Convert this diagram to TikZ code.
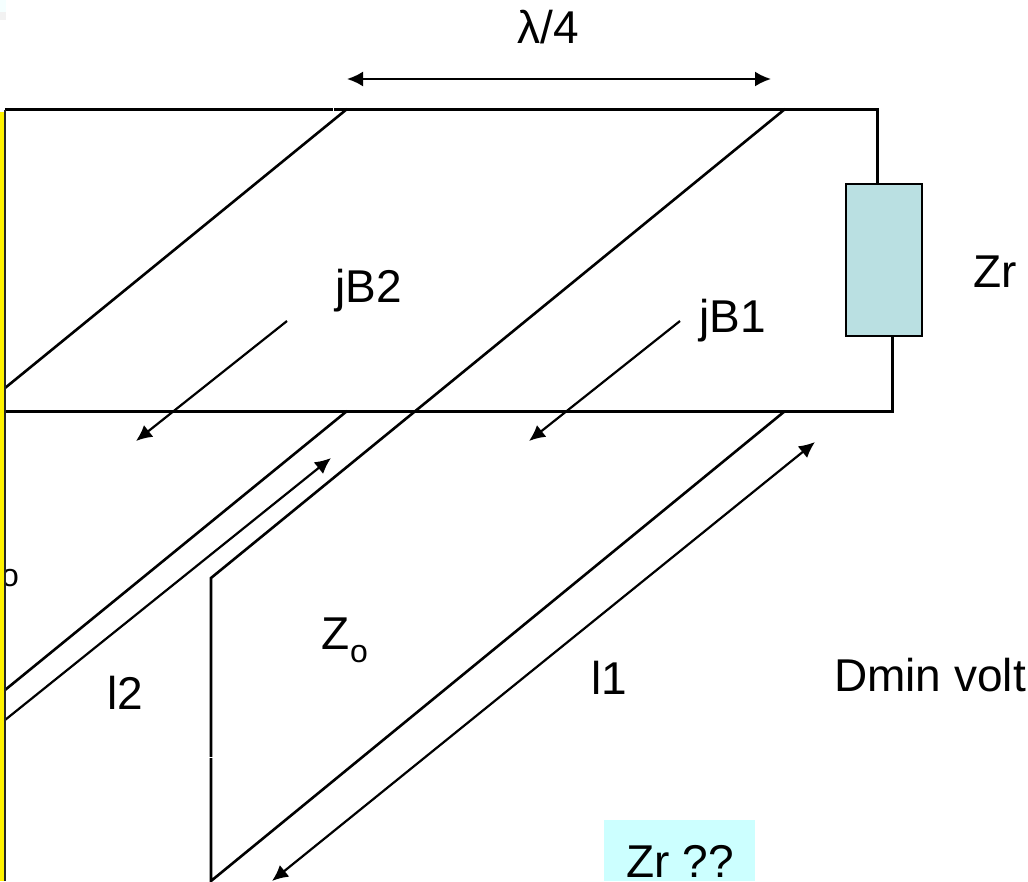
\documentclass[tikz,border=0pt]{standalone}
\usepackage{fontspec}
\setmainfont{Liberation Sans}
\usetikzlibrary{arrows.meta}
\definecolor{boxfill}{HTML}{BAE0E2}
\definecolor{noteFill}{HTML}{CCFFFF}
\tikzset{
  wire/.style={draw=black,line width=3pt,line join=miter},
  slant/.style={draw=black,line width=2.6pt,line join=miter},
  dim/.style={draw=black,line width=2.2pt,{Latex[length=16pt,width=15pt]}-{Latex[length=16pt,width=15pt]}},
  sdim/.style={draw=black,line width=2.2pt,-{Latex[length=16pt,width=15pt]}},
  label/.style={inner sep=0pt,font=\fontsize{46}{46}\selectfont,text=black},
  sublabel/.style={inner sep=0pt,font=\fontsize{32}{32}\selectfont,text=black},
}
\begin{document}
\begin{tikzpicture}[x=1pt,y=-1pt]
\useasboundingbox (0,0) rectangle (1028,881);
\fill[white] (0,0) rectangle (1028,881);
\fill[blue!3!cyan!4] (0,0) rectangle (6,12);
\fill[black!5] (0,12) rectangle (6,20);
% coordinates
\coordinate (tl) at (5,109);
\coordinate (tr) at (877,109);
\coordinate (bl) at (5,411);
\coordinate (br) at (892,411);
\coordinate (a1) at (347,109);
\coordinate (a2) at (5,388);
\coordinate (b1) at (785,109);
\coordinate (b2) at (211,578);
\coordinate (b3) at (211,881);
\coordinate (c1) at (785,411);
\coordinate (d1) at (347,411);
\coordinate (d2) at (5,690);
\coordinate (ztop) at (877,184);
\coordinate (zbot) at (892,336);
\draw[wire] (tl) -- (tr) -- (ztop);
\draw[wire] (zbot) -- (br) -- (bl);
\node[draw=black,line width=2.6pt,fill=boxfill,minimum width=76pt,minimum height=152pt,inner sep=0pt] (zr) at (884,260) {};
\draw[slant] (a1) -- (a2);
\draw[slant] (b1) -- (b2) -- (b3) -- (c1);
\draw[slant] (d1) -- (d2);
% small white nicks in the lines
\coordinate (n1) at (333,107);
\coordinate (n2) at (333,111);
\draw[white,line width=0.8pt] (n1) -- (n2);
\coordinate (n3) at (209,757);
\coordinate (n4) at (213,757);
\draw[white,line width=0.8pt] (n3) -- (n4);
% arrows
\coordinate (la) at (347,79);
\coordinate (lb) at (771,79);
\draw[dim] (la) -- (lb);
\coordinate (j2a) at (287,321);
\coordinate (j2b) at (136,441);
\draw[sdim] (j2a) -- (j2b);
\coordinate (j1a) at (680,321);
\coordinate (j1b) at (529,441);
\draw[sdim] (j1a) -- (j1b);
\coordinate (l2a) at (5,720);
\coordinate (l2b) at (331,458);
\draw[sdim] (l2a) -- (l2b);
\coordinate (l1a) at (815,442);
\coordinate (l1b) at (272,881);
\draw[dim] (l1a) -- (l1b);
% texts
\node[label,anchor=base] (lam) at (548,43) {λ/4};
\node[label,anchor=base west] (zrt) at (973,287) {Zr};
\node[label,anchor=base west] (jb2) at (335,302) {jB2};
\node[label,anchor=base west] (jb1) at (699,332) {jB1};
\node[label,anchor=base west] (z0) at (321,649) {Z};
\node[sublabel,anchor=base west] (z0s) at (350,662) {o};
\node[sublabel,anchor=base west] (os) at (1,586) {o};
\node[label,anchor=base west] (l2) at (107,709) {l2};
\node[label,anchor=base west] (l1) at (591,694) {l1};
\node[label,anchor=base west] (dm) at (834,691) {Dmin volt};
\fill[noteFill] (604,820) rectangle (755,881);
\node[label,anchor=base] (q) at (680,877) {Zr ??};
% yellow bar
\fill[yellow] (0,112) rectangle (4,881);
\draw[black!85,line width=1.6pt] (5,110) -- (5,881);
\end{tikzpicture}
\end{document}
